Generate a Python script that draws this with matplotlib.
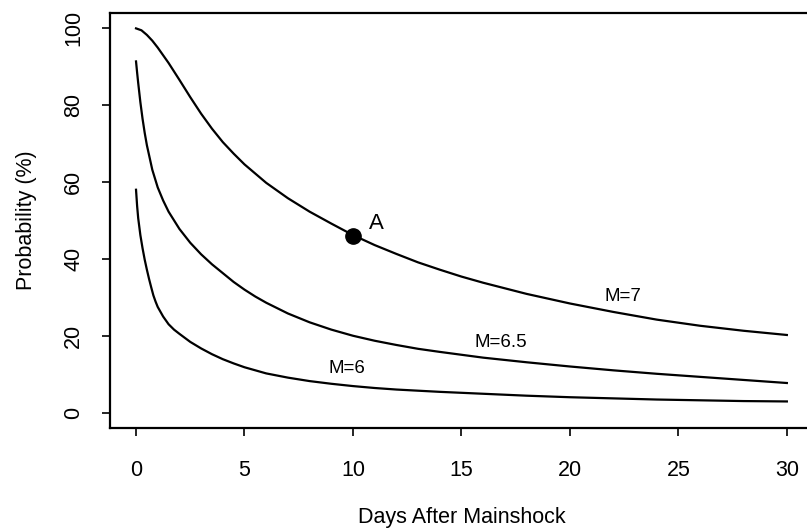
import matplotlib
matplotlib.use('Agg')
import matplotlib.pyplot as plt

# days after mainshock and probability (%)
days_m7 = [0, 0.25, 0.5, 0.75, 1, 1.5, 2, 2.5, 3, 3.5, 4, 4.5, 5, 6, 7, 8, 9, 10, 11, 12,
           13, 14, 15, 16, 18, 20, 22, 24, 26, 28, 30]
prob_m7 = [100, 99.5, 98.3, 96.8, 95, 91, 86.6, 82.1, 77.8, 73.9, 70.4, 67.4, 64.6, 59.8,
           55.8, 52.3, 49.2, 46.2, 43.6, 41.3, 39.1, 37.2, 35.4, 33.8, 30.9, 28.4, 26.2,
           24.2, 22.6, 21.3, 20.2]

days_m65 = [0, 0.05, 0.1, 0.2, 0.3, 0.4, 0.5, 0.75, 1, 1.25, 1.5, 2, 2.5, 3, 3.5, 4, 4.5,
            5, 5.5, 6, 7, 8, 9, 10, 11, 12, 13, 14, 16, 18, 20, 22, 24, 26, 28, 30]
prob_m65 = [91.4, 88.5, 85.8, 80.8, 76.5, 72.8, 69.6, 63.2, 58.6, 55.2, 52.3, 47.8, 44.2,
            41.2, 38.6, 36.3, 34.0, 32.0, 30.2, 28.6, 25.8, 23.5, 21.6, 20.0, 18.7, 17.6,
            16.6, 15.8, 14.3, 13.1, 12.0, 11.0, 10.1, 9.3, 8.5, 7.7]

days_m6 = [0, 0.05, 0.1, 0.2, 0.3, 0.4, 0.5, 0.6, 0.7, 0.8, 0.9, 1, 1.25, 1.5, 1.75, 2,
           2.5, 3, 3.5, 4, 4.5, 5, 6, 7, 8, 9, 10, 11, 12, 13, 14, 16, 18, 20, 22, 24,
           26, 28, 30]
prob_m6 = [58, 53.8, 50.6, 46.2, 42.8, 39.8, 37.2, 34.8, 32.6, 30.5, 28.9, 27.5, 25.0,
           23.0, 21.6, 20.5, 18.4, 16.7, 15.2, 13.9, 12.8, 11.8, 10.2, 9.1, 8.2, 7.5,
           6.9, 6.4, 6.0, 5.7, 5.4, 4.9, 4.4, 4.0, 3.7, 3.4, 3.2, 3.0, 2.9]

point_a = (10, 46)

curve_labels = ['M=7', 'M=6.5', 'M=6']
label_pos = [(22.45, 30.1), (16.8, 18.2), (9.7, 11.6)]

plt.rcParams['font.family'] = ['Liberation Sans', 'DejaVu Sans']

fig = plt.figure(figsize=(8.07, 5.29), dpi=100)
ax = fig.add_axes([0.1363, 0.191, 0.871, 0.7844])

for d, p in [(days_m7, prob_m7), (days_m65, prob_m65), (days_m6, prob_m6)]:
    ax.plot(d, p, color='black', lw=1.6, solid_joinstyle='round')

ax.plot(*point_a, 'o', color='black', ms=11)
ax.text(11.1, 49.3, 'A', fontsize=16, ha='center', va='center')

for txt, (x, y) in zip(curve_labels, label_pos):
    ax.text(x, y, txt, fontsize=13.5, ha='center', va='center')

ax.set_xlim(-1.2, 31.2)
ax.set_ylim(-4, 104)
ax.set_xticks([0, 5, 10, 15, 20, 25, 30])
ax.set_yticks([0, 20, 40, 60, 80, 100])
ax.tick_params(direction='out', length=6, width=1.2, labelsize=15.5)
ax.tick_params(axis='x', pad=17)
ax.tick_params(axis='y', pad=12.5)
for lab in ax.get_yticklabels():
    lab.set_rotation(90)
    lab.set_va('center')
for s in ax.spines.values():
    s.set_linewidth(1.6)

ax.set_xlabel('Days After Mainshock', fontsize=15.5, labelpad=19)
ax.set_ylabel('Probability (%)', fontsize=15.5, labelpad=19)

fig.savefig('out.png', dpi=100)
